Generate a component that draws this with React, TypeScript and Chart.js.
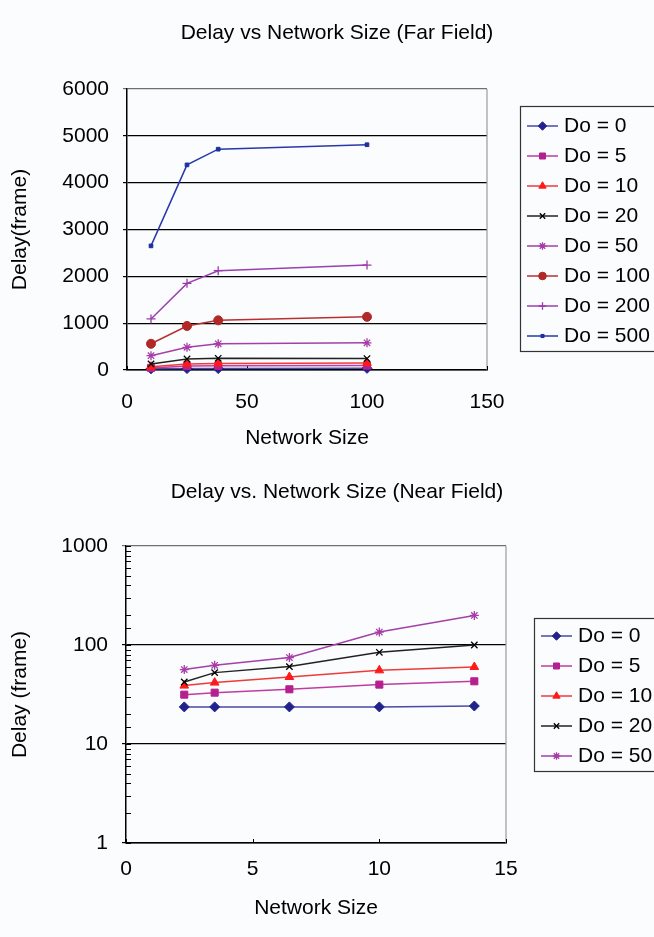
import React, { useEffect, useRef } from 'react';
import { Chart, registerables } from 'chart.js';
import { drawPoint } from 'chart.js/helpers';

Chart.register(...registerables);

const FONT = "'Liberation Sans', Arial, Helvetica, sans-serif";

// ---------- Far field data ----------
const farTitle = 'Delay vs Network Size (Far Field)';
const farXTitle = 'Network Size';
const farYTitle = 'Delay(frame)';
const farNetworkSize = [10, 25, 38, 100];
const farLabels = ['Do = 0', 'Do = 5', 'Do = 10', 'Do = 20', 'Do = 50', 'Do = 100', 'Do = 200', 'Do = 500'];
const farDo0 = [25, 30, 30, 35];
const farDo5 = [45, 85, 90, 95];
const farDo10 = [70, 130, 140, 150];
const farDo20 = [130, 235, 250, 245];
const farDo50 = [305, 485, 560, 580];
const farDo100 = [560, 940, 1060, 1135];
const farDo200 = [1090, 1850, 2120, 2240];
const farDo500 = [2650, 4380, 4715, 4810];
const farSeries = [farDo0, farDo5, farDo10, farDo20, farDo50, farDo100, farDo200, farDo500];
const farYMin = 0;
const farYMax = 6000;
const farYStep = 1000;
const farXMin = 0;
const farXMax = 150;
const farXStep = 50;

// ---------- Near field data ----------
const nearTitle = 'Delay vs. Network Size (Near Field)';
const nearXTitle = 'Network Size';
const nearYTitle = 'Delay (frame)';
const nearNetworkSize = [2.3, 3.5, 6.45, 10, 13.75];
const nearLabels = ['Do = 0', 'Do = 5', 'Do = 10', 'Do = 20', 'Do = 50'];
const nearDo0 = [23.7, 23.7, 23.7, 23.7, 24.2];
const nearDo5 = [31.5, 33, 35.7, 39.8, 43];
const nearDo10 = [38.9, 41.7, 47.5, 55.5, 60];
const nearDo20 = [42.3, 52.6, 60.5, 84.3, 100];
const nearDo50 = [56.5, 62.4, 74.7, 135, 199];
const nearSeries = [nearDo0, nearDo5, nearDo10, nearDo20, nearDo50];
const nearYMin = 1;
const nearYMax = 1000;
const nearXMin = 0;
const nearXMax = 15;
const nearXStep = 5;

// ---------- Styles ----------
const STYLES = [
  { line: '#4a4aa8', marker: '#22228c', pointStyle: 'rectRot', radius: 5 },
  { line: '#c03ca0', marker: '#b4208e', pointStyle: 'rect', radius: 5 },
  { line: '#f03a3a', marker: '#ff1a1a', pointStyle: 'triangle', radius: 5 },
  { line: '#222222', marker: '#000000', pointStyle: 'crossRot', radius: 4.5 },
  { line: '#a440a8', marker: '#a63ca6', pointStyle: 'star', radius: 4.5 },
  { line: '#b83030', marker: '#b02828', pointStyle: 'circle', radius: 4.5 },
  { line: '#9a40b0', marker: '#9a3aaa', pointStyle: 'cross', radius: 4.5 },
  { line: '#2838a8', marker: '#1f2f9f', pointStyle: 'rect', radius: 2.6 },
];

function makeDatasets(xs: number[], series: number[][], labels: string[]) {
  return series.map((ys, i) => {
    const s = STYLES[i];
    const stroke = s.pointStyle === 'cross' || s.pointStyle === 'crossRot' || s.pointStyle === 'star';
    return {
      label: labels[i],
      data: xs.map((x, j) => ({ x, y: ys[j] })),
      borderColor: s.line,
      borderWidth: 1.5,
      pointStyle: s.pointStyle,
      pointRadius: s.radius,
      pointBackgroundColor: s.marker,
      pointBorderColor: s.marker,
      pointBorderWidth: stroke ? 1.3 : 1,
      tension: 0,
      clip: false,
      order: series.length - i,
    };
  });
}

type LegendBox = {
  left: number; top: number; bottom: number; right: number;
  row0: number; rowGap: number; lineX0: number; lineX1: number; textX: number;
};

function decorPlugin(title: string, titleX: number, titleY: number, legend: LegendBox, logMinor: boolean) {
  return {
    id: 'decor',
    beforeDatasetsDraw(chart: any) {
      const { ctx, chartArea } = chart;
      ctx.save();
      ctx.strokeStyle = '#9a9a9a';
      ctx.lineWidth = 1.2;
      ctx.beginPath();
      ctx.moveTo(chartArea.right, chartArea.top);
      ctx.lineTo(chartArea.right, chartArea.bottom);
      ctx.stroke();
      // inner tick marks on x axis
      const xs = chart.scales.x;
      ctx.strokeStyle = '#000';
      ctx.lineWidth = 1;
      ctx.beginPath();
      xs.ticks.forEach((t: any) => {
        const px = Math.round(xs.getPixelForValue(t.value)) + 0.5;
        ctx.moveTo(px, chartArea.bottom);
        ctx.lineTo(px, chartArea.bottom - 4);
      });
      ctx.stroke();
      if (logMinor) {
        const ys = chart.scales.y;
        ctx.beginPath();
        ys.ticks.forEach((t: any) => {
          const py = Math.round(ys.getPixelForValue(t.value)) + 0.5;
          ctx.moveTo(chartArea.left, py);
          ctx.lineTo(chartArea.left + 5, py);
        });
        ctx.stroke();
      }
      ctx.restore();
    },
    afterDraw(chart: any) {
      const { ctx } = chart;
      ctx.save();
      ctx.fillStyle = '#000';
      ctx.font = `21px ${FONT}`;
      ctx.textAlign = 'center';
      ctx.textBaseline = 'middle';
      ctx.fillText(title, titleX, titleY);
      // legend
      ctx.strokeStyle = '#333';
      ctx.lineWidth = 1.2;
      ctx.strokeRect(legend.left + 0.5, legend.top + 0.5, legend.right - legend.left, legend.bottom - legend.top);
      const dsets = chart.data.datasets;
      dsets.forEach((ds: any, i: number) => {
        const y = legend.row0 + i * legend.rowGap;
        ctx.strokeStyle = ds.borderColor;
        ctx.lineWidth = 1.5;
        ctx.beginPath();
        ctx.moveTo(legend.lineX0, y);
        ctx.lineTo(legend.lineX1, y);
        ctx.stroke();
        ctx.fillStyle = ds.pointBackgroundColor;
        ctx.strokeStyle = ds.pointBorderColor;
        ctx.lineWidth = ds.pointBorderWidth;
        drawPoint(ctx, { pointStyle: ds.pointStyle, radius: ds.pointRadius * 0.85, rotation: 0, borderWidth: ds.pointBorderWidth } as any,
          (legend.lineX0 + legend.lineX1) / 2, y);
        ctx.fillStyle = '#000';
        ctx.textAlign = 'left';
        ctx.textBaseline = 'middle';
        ctx.font = `21px ${FONT}`;
        ctx.fillText(ds.label, legend.textX, y);
      });
      ctx.restore();
    },
  };
}

function farConfig(): any {
  return {
    type: 'line',
    data: { datasets: makeDatasets(farNetworkSize, farSeries, farLabels) },
    options: {
      animation: false,
      responsive: true,
      maintainAspectRatio: false,
      layout: { padding: { top: 89, right: 167, left: 0, bottom: 0 } },
      plugins: { legend: { display: false }, title: { display: false }, tooltip: { enabled: false } },
      scales: {
        x: {
          type: 'linear', min: farXMin, max: farXMax,
          ticks: { stepSize: farXStep, padding: 20, color: '#000', font: { family: FONT, size: 21 }, maxRotation: 0, callback: (v: any) => String(v) },
          grid: { display: false, drawTicks: false },
          border: { display: true, color: '#000', width: 1.5 },
          title: { display: true, text: farXTitle, color: '#000', font: { family: FONT, size: 21 }, padding: { top: 0, bottom: 17 } },
          afterFit: (s: any) => { s.height = 98; },
        },
        y: {
          type: 'linear', min: farYMin, max: farYMax,
          ticks: { stepSize: farYStep, padding: 14, color: '#000', font: { family: FONT, size: 21 }, callback: (v: any) => String(v) },
          grid: {
            color: (c: any) => (c.tick && c.tick.value === farYMax ? '#707070' : '#000'),
            lineWidth: 1.2, drawTicks: true, tickLength: 4,
          },
          border: { display: true, color: '#000', width: 1.5 },
          title: { display: true, text: farYTitle, color: '#000', font: { family: FONT, size: 21 }, padding: { top: 8, bottom: 0 } },
          afterFit: (s: any) => { s.width = 127; },
        },
      },
    },
    plugins: [decorPlugin(farTitle, 337, 33, {
      left: 520, top: 106, bottom: 351, right: 700,
      row0: 126, rowGap: 30, lineX0: 527, lineX1: 558, textX: 564,
    }, false)],
  };
}

const isPow10 = (v: number) => Math.abs(Math.log10(v) - Math.round(Math.log10(v))) < 1e-9;

function nearConfig(): any {
  return {
    type: 'line',
    data: { datasets: makeDatasets(nearNetworkSize, nearSeries, nearLabels) },
    options: {
      animation: false,
      responsive: true,
      maintainAspectRatio: false,
      layout: { padding: { top: 78, right: 148, left: 0, bottom: 0 } },
      plugins: { legend: { display: false }, title: { display: false }, tooltip: { enabled: false } },
      scales: {
        x: {
          type: 'linear', min: nearXMin, max: nearXMax,
          ticks: { stepSize: nearXStep, padding: 14, color: '#000', font: { family: FONT, size: 21 }, maxRotation: 0 },
          grid: { display: false, drawTicks: false },
          border: { display: true, color: '#000', width: 1.5 },
          title: { display: true, text: nearXTitle, color: '#000', font: { family: FONT, size: 21 }, padding: { top: 0, bottom: 16 } },
          afterFit: (s: any) => { s.height = 94; },
        },
        y: {
          type: 'logarithmic', min: nearYMin, max: nearYMax,
          ticks: {
            autoSkip: false, padding: 14, color: '#000', font: { family: FONT, size: 21 },
            callback: (v: any) => (isPow10(Number(v)) ? String(v) : ''),
          },
          grid: {
            color: (c: any) => {
              const v = c.tick ? c.tick.value : 0;
              if (!isPow10(v)) return 'rgba(0,0,0,0)';
              return v === nearYMax ? '#707070' : '#000';
            },
            lineWidth: 1.2, drawTicks: true, tickLength: 4,
          },
          border: { display: true, color: '#000', width: 1.5 },
          title: { display: true, text: nearYTitle, color: '#000', font: { family: FONT, size: 21 }, padding: { top: 8, bottom: 0 } },
          afterFit: (s: any) => { s.width = 126; },
        },
      },
    },
    plugins: [decorPlugin(nearTitle, 337, 24, {
      left: 534, top: 150, bottom: 303, right: 700,
      row0: 168, rowGap: 30, lineX0: 541, lineX1: 572, textX: 578,
    }, true)],
  };
}

function ChartBox({ make, top, height }: { make: () => any; top: number; height: number }) {
  const ref = useRef<HTMLCanvasElement>(null);
  useEffect(() => {
    const chart = new Chart(ref.current as HTMLCanvasElement, make());
    return () => chart.destroy();
  }, []);
  return (
    <div style={{ position: 'absolute', left: 0, top, width: 654, height }}>
      <canvas ref={ref} />
    </div>
  );
}

export default function App() {
  return (
    <div style={{ position: 'absolute', left: 0, top: 0, width: 654, height: 937, background: '#fbfcfe', overflow: 'hidden' }}>
      <ChartBox make={farConfig} top={0} height={468} />
      <ChartBox make={nearConfig} top={468} height={469} />
    </div>
  );
}
